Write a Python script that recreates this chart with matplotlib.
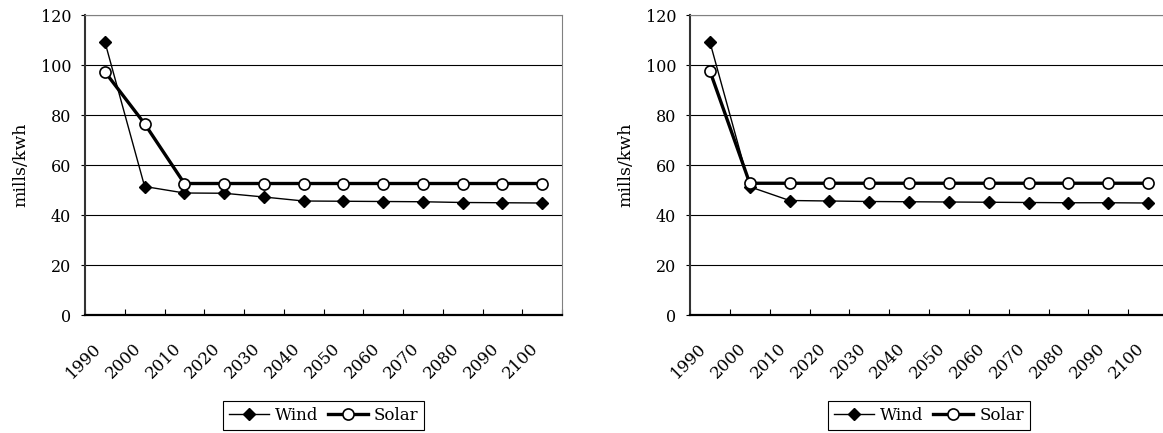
import numpy as np
import matplotlib
matplotlib.use('Agg')
import matplotlib.pyplot as plt
from matplotlib.ticker import FixedLocator

# data (mills/kwh)
years = ['1990', '2000', '2010', '2020', '2030', '2040',
         '2050', '2060', '2070', '2080', '2090', '2100']

wind_left = [109.3, 51.4, 48.8, 48.7, 47.2, 45.6, 45.5, 45.4, 45.3, 45.0, 44.9, 44.8]
solar_left = [97.3, 76.5, 52.6, 52.6, 52.6, 52.6, 52.6, 52.6, 52.6, 52.6, 52.6, 52.6]

wind_right = [109.2, 51.3, 45.8, 45.6, 45.4, 45.3, 45.2, 45.1, 45.0, 44.9, 44.9, 44.8]
solar_right = [97.6, 52.7, 52.7, 52.7, 52.7, 52.7, 52.7, 52.7, 52.7, 52.7, 52.7, 52.7]

plt.rcParams['font.family'] = 'DejaVu Serif'
fs = 11

W, H = 1163, 433
fig = plt.figure(figsize=(W / 100, H / 100), dpi=100)

# axes boxes in pixels: left, bottom(from top), width, height
boxes = [(85, 315, 477, 300), (690, 315, 478, 300)]
panels = [(wind_left, solar_left), (wind_right, solar_right)]

x = np.arange(len(years))

for (px, pb, pw, ph), (wind, solar) in zip(boxes, panels):
    ax = fig.add_axes([px / W, (H - pb) / H, pw / W, ph / H])
    ax.set_xlim(-0.5, len(years) - 0.5)
    ax.set_ylim(0, 120)

    # horizontal gridlines
    for g in range(20, 121, 20):
        ax.axhline(g, color='black', lw=0.8, zorder=1)

    ax.plot(x, wind, '-', color='black', lw=1.0, marker='D', markersize=6.5,
            markerfacecolor='black', markeredgecolor='black', label='Wind', zorder=3)
    ax.plot(x, solar, '-', color='black', lw=2.4, marker='o', markersize=8,
            markerfacecolor='white', markeredgecolor='black', markeredgewidth=1.2,
            label='Solar', zorder=4)

    # category axis: ticks at boundaries, labels at centres
    ax.xaxis.set_major_locator(FixedLocator(np.arange(-0.5, len(years) + 0.5, 1)))
    ax.xaxis.set_major_formatter(plt.NullFormatter())
    ax.tick_params(axis='x', which='major', direction='in', length=4, width=0.8)
    ax.xaxis.set_minor_locator(FixedLocator(x))
    ax.set_xticklabels(years, minor=True, rotation=45, ha='right', fontsize=fs + 1)
    ax.tick_params(axis='x', which='minor', length=0, pad=18)

    ax.set_yticks(range(0, 121, 20))
    ax.tick_params(axis='y', direction='out', length=3, width=0.8, pad=7, labelsize=fs + 0.5)
    ax.set_ylabel('mills/kwh', fontsize=fs + 1.5, labelpad=8)

    ax.spines['left'].set_linewidth(1.5)
    ax.spines['left'].set_color('#333333')
    ax.spines['bottom'].set_linewidth(1.6)
    ax.spines['top'].set_linewidth(0.8)
    ax.spines['top'].set_color('#808080')
    ax.spines['right'].set_linewidth(0.8)
    ax.spines['right'].set_color('#808080')

    leg = ax.legend(loc='center', bbox_to_anchor=(0.5, -0.335), ncol=2, fontsize=fs + 1,
                    frameon=True, fancybox=False, edgecolor='black', framealpha=1,
                    handlelength=2.4, handletextpad=0.35, columnspacing=0.6,
                    borderpad=0.35)
    leg.get_frame().set_linewidth(0.8)

fig.savefig('out.png', dpi=100)
